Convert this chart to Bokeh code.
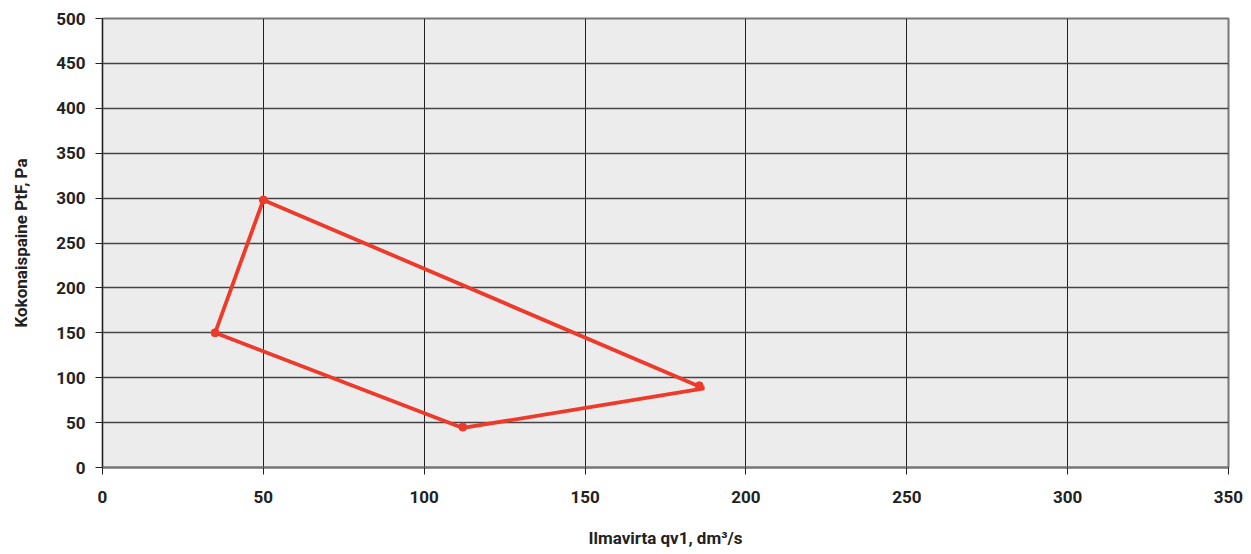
from bokeh.plotting import figure
from bokeh.embed import file_html
from bokeh.resources import INLINE
from bokeh.models import Range1d, FixedTicker

# data
line_x = [35, 50, 187, 112, 35]
line_y = [150, 298, 88, 44, 150]
marker_x = [35, 50, 185.5, 112]
marker_y = [150, 298, 91, 45]
x_ticks = [0, 50, 100, 150, 200, 250, 300, 350]
y_ticks = [0, 50, 100, 150, 200, 250, 300, 350, 400, 450, 500]

RED = "#ee3a2a"
FONT = "Roboto"

p = figure(width=1243, height=550, output_backend="svg", toolbar_location=None,
           x_range=Range1d(0, 350), y_range=Range1d(0, 500),
           min_border_left=102, min_border_right=15, min_border_top=18, min_border_bottom=82)

p.background_fill_color = "#ececec"
p.border_fill_color = "white"
p.outline_line_color = "#777777"
p.outline_line_width = 2

p.line(line_x, line_y, line_color=RED, line_width=3.8)
p.scatter(marker_x, marker_y, size=8, color=RED)

for ax, ticks in ((p.xaxis[0], x_ticks), (p.yaxis[0], y_ticks)):
    ax.ticker = FixedTicker(ticks=ticks)
    ax.major_label_text_font = FONT
    ax.major_label_text_font_style = "bold"
    ax.major_label_text_font_size = "17px"
    ax.major_label_text_color = "#222222"
    ax.axis_label_text_font = FONT
    ax.axis_label_text_font_style = "bold"
    ax.axis_label_text_font_size = "17px"
    ax.axis_label_text_color = "#222222"
    ax.minor_tick_line_color = None
    ax.major_tick_in = 0
    ax.major_tick_out = 7
    ax.major_tick_line_color = "#222222"

p.xaxis.axis_label = "Ilmavirta qv1, dm³/s"
p.yaxis.axis_label = "Kokonaispaine PtF, Pa"
p.xaxis.axis_line_color = "#777777"
p.xaxis.axis_line_width = 2
p.yaxis.axis_line_color = "#222222"
p.xaxis.major_label_standoff = 16
p.xaxis.axis_label_standoff = 22
p.yaxis.major_label_standoff = 10
p.yaxis.axis_label_standoff = 22

p.xgrid.ticker = FixedTicker(ticks=x_ticks)
p.ygrid.ticker = FixedTicker(ticks=y_ticks)
p.xgrid.grid_line_color = "#222222"
p.ygrid.grid_line_color = "#444444"
p.xgrid.grid_line_width = 1
p.ygrid.grid_line_width = 1.3

open("out.html", "w").write(file_html(p, INLINE))
